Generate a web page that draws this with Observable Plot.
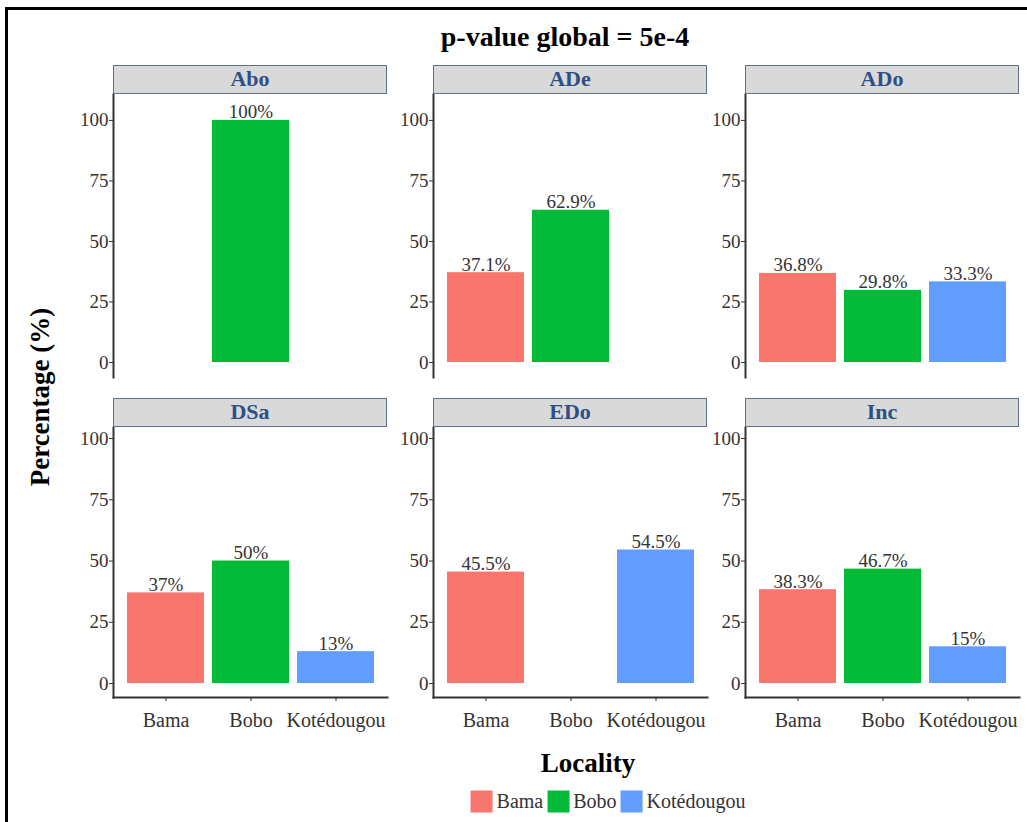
<!DOCTYPE html>
<html>
<head>
<meta charset="utf-8">
<script src="https://cdn.jsdelivr.net/npm/d3@7"></script>
<script src="https://cdn.jsdelivr.net/npm/@observablehq/plot@0.6"></script>
<style>
html, body { margin: 0; padding: 0; overflow: hidden; background: #fff; width: 1027px; height: 822px; }
#root { position: relative; width: 1027px; height: 822px; font-family: "Liberation Serif", "Times New Roman", serif; overflow: hidden; }
#border { position: absolute; left: 5px; top: 7px; width: 1040px; height: 840px; border: 3px solid #000; background: #fff; }
.abs { position: absolute; }
.title { font-weight: bold; font-size: 27px; color: #000; white-space: nowrap; line-height: 30px; height: 30px; }
.strip { position: absolute; height: 29px; background: #d9d9d9; border: 1.5px solid #61718c; box-sizing: border-box; color: #2d4f86; font-weight: bold; font-size: 22px; text-align: center; line-height: 26px; }
.lg-swatch { margin-right: 4px !important; }
.lg-swatch > svg { margin-right: 4px !important; }
</style>
</head>
<body>
<div id="root">
  <div id="border"></div>
</div>
<script>
// ---- data ----
const localities = ["Bama", "Bobo", "Kotédougou"];
const localityColors = ["#F8766D", "#00BA38", "#619CFF"];
const panelNames = ["Abo", "ADe", "ADo", "DSa", "EDo", "Inc"];
const bamaValues = [null, 37.1, 36.8, 37, 45.5, 38.3];
const boboValues = [100, 62.9, 29.8, 50, null, 46.7];
const kotedougouValues = [null, null, 33.3, 13, 54.5, 15];
const yTicks = [0, 25, 50, 75, 100];
const titleText = "p-value global = 5e-4";
const yTitle = "Percentage (%)";
const xTitle = "Locality";

// ---- table ----
const seriesByLocality = [bamaValues, boboValues, kotedougouValues];
const rows = [];
panelNames.forEach((p, i) => {
  localities.forEach((loc, j) => {
    const v = seriesByLocality[j][i];
    if (v != null) rows.push({panel: p, locality: loc, value: v});
  });
});

// ---- layout ----
const root = document.getElementById("root");
const font = "'Liberation Serif', 'Times New Roman', serif";
const colX = [113, 433, 745];
const panelW = 274;
const rowTop = [94, 427];
const rowBottom = [377, 697];
const stripTop = [65, 398];
const yDomains = [[-6.2, 110.7], [-5.7, 104.5]];
const mLeft = 48;

function addText(txt, cx, cy, extra) {
  const d = document.createElement("div");
  d.className = "abs title";
  d.textContent = txt;
  d.style.width = "400px";
  d.style.textAlign = "center";
  d.style.left = (cx - 200) + "px";
  d.style.top = (cy - 15) + "px";
  if (extra) Object.assign(d.style, extra);
  root.appendChild(d);
  return d;
}

addText(titleText, 565, 37, {fontSize: "28px"});
addText(yTitle, 40, 397, {transform: "rotate(-90deg)"});
addText(xTitle, 588, 763);

panelNames.forEach((p, i) => {
  const r = Math.floor(i / 3), c = i % 3;
  const data = rows.filter(d => d.panel === p);
  const bottomRow = r === 1;
  const mBottom = bottomRow ? 48 : 0;
  const h = rowBottom[r] - rowTop[r];
  const chart = Plot.plot({
    width: mLeft + panelW + 2,
    height: h + mBottom,
    marginLeft: mLeft,
    marginRight: 2,
    marginTop: 0,
    marginBottom: mBottom,
    x: {domain: localities, paddingInner: 0.1, paddingOuter: 0.16, axis: null},
    y: {domain: yDomains[r], axis: null},
    color: {domain: localities, range: localityColors},
    style: {fontFamily: font, background: "transparent", overflow: "visible"},
    marks: [
      Plot.barY(data, {x: "locality", y: "value", fill: "locality"}),
      Plot.text(data, {x: "locality", y: "value", text: d => d.value + "%", lineAnchor: "bottom", dy: -2, fontSize: 19, fill: "#333"}),
      Plot.axisY(yTicks, {tickSize: 4, tickPadding: 1, fontSize: 19, fill: "#333", stroke: "#333", label: null}),
      bottomRow ? Plot.axisX(localities, {tickSize: 4, tickPadding: 11, fontSize: 20, fill: "#333", stroke: "#333", label: null}) : null,
      Plot.frame({anchor: "left", stroke: "#333", strokeWidth: 2}),
      bottomRow ? Plot.frame({anchor: "bottom", stroke: "#333", strokeWidth: 2}) : null
    ]
  });
  chart.style.position = "absolute";
  chart.style.left = (colX[c] - mLeft) + "px";
  chart.style.top = rowTop[r] + "px";
  root.appendChild(chart);

  const s = document.createElement("div");
  s.className = "strip";
  s.textContent = p;
  s.style.left = colX[c] + "px";
  s.style.top = stripTop[r] + "px";
  s.style.width = panelW + "px";
  root.appendChild(s);
});

const legend = Plot.legend({
  color: {type: "categorical", domain: localities, range: localityColors},
  legend: "swatches",
  swatchSize: 22,
  className: "lg",
  style: {fontFamily: font, fontSize: "20px", color: "#333", margin: "0"}
});
const lgWrap = document.createElement("div");
lgWrap.className = "abs";
lgWrap.style.left = "610px";
lgWrap.style.top = "801px";
lgWrap.style.transform = "translate(-50%, -50%)";
lgWrap.style.whiteSpace = "nowrap";
lgWrap.appendChild(legend);
root.appendChild(lgWrap);
</script>
</body>
</html>
